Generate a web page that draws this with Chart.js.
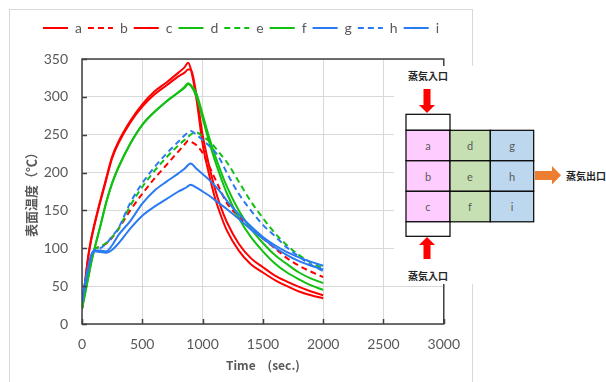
<!DOCTYPE html>
<html>
<head>
<meta charset="utf-8">
<script src="https://cdn.jsdelivr.net/npm/chart.js@4.4.1/dist/chart.umd.min.js"></script>
<style>
  html, body { margin: 0; padding: 0; background: #fff; width: 606px; height: 382px; overflow: hidden; }
  #wrap { position: absolute; left: 9px; top: 9px; width: 464px; height: 380px; border: 1px solid #d9d9d9; box-sizing: border-box; }
  #diagram { position: absolute; left: 394px; top: 66px; }
  #diagram .lbl { font-family: "Noto Sans CJK JP", sans-serif; font-weight: bold; font-size: 10px; fill: #262626; }
  #diagram .cell { font-family: Lato, sans-serif; font-size: 11px; fill: #595959; }
</style>
</head>
<body>
<div id="wrap"><canvas id="chart" width="462" height="378"></canvas></div>

<svg id="diagram" width="212" height="218" viewBox="394 66 212 218">
  <rect x="394" y="66" width="212" height="218" fill="#fff"/>
  <text class="lbl" x="428" y="75" text-anchor="middle" dominant-baseline="central">蒸気入口</text>
  <path d="M423.5,89 H430.5 V105 H435 L427,113 L419,105 H423.5 Z" fill="#ff0000"/>
  <g stroke="#000" stroke-width="1.2">
    <rect x="406" y="114.3" width="44" height="16" fill="#fff"/>
    <rect x="406" y="130.3" width="44" height="30.5" fill="#ffccff"/>
    <rect x="406" y="160.8" width="44" height="30.5" fill="#ffccff"/>
    <rect x="406" y="191.3" width="44" height="30.5" fill="#ffccff"/>
    <rect x="450" y="130.3" width="40.3" height="30.5" fill="#c6e0b4"/>
    <rect x="450" y="160.8" width="40.3" height="30.5" fill="#c6e0b4"/>
    <rect x="450" y="191.3" width="40.3" height="30.5" fill="#c6e0b4"/>
    <rect x="490.3" y="130.3" width="43.4" height="30.5" fill="#bdd7ee"/>
    <rect x="490.3" y="160.8" width="43.4" height="30.5" fill="#bdd7ee"/>
    <rect x="490.3" y="191.3" width="43.4" height="30.5" fill="#bdd7ee"/>
    <rect x="406" y="221.8" width="44" height="14.5" fill="#fff"/>
  </g>
  <g class="cell" text-anchor="middle" dominant-baseline="central">
    <text class="cell" x="428" y="145.5">a</text>
    <text class="cell" x="428" y="176">b</text>
    <text class="cell" x="428" y="206.5">c</text>
    <text class="cell" x="470" y="145.5">d</text>
    <text class="cell" x="470" y="176">e</text>
    <text class="cell" x="470" y="206.5">f</text>
    <text class="cell" x="512" y="145.5">g</text>
    <text class="cell" x="512" y="176">h</text>
    <text class="cell" x="512" y="206.5">i</text>
  </g>
  <path d="M427,237 L435,245 H430.5 V259 H423.5 V245 H419 Z" fill="#ff0000"/>
  <text class="lbl" x="428" y="275" text-anchor="middle" dominant-baseline="central">蒸気入口</text>
  <path d="M535,171 H552 V166 L561,175.3 L552,184.5 V180 H535 Z" fill="#ed7d31"/>
  <text class="lbl" x="566" y="175.5" dominant-baseline="central">蒸気出口</text>
</svg>

<script>
// sample times (sec.)
const times = [0, 25, 50, 75, 100, 150, 200, 250, 300, 400, 500, 600, 700, 800, 850, 880, 900,
  950, 1000, 1050, 1100, 1150, 1200, 1300, 1400, 1500, 1600, 1700, 1800, 1900, 2000];

// surface temperature (°C) per position
const tempA = [20, 55, 88, 112, 130, 162, 192, 221, 240, 268, 290, 307, 319, 332, 339, 345, 338,
  296, 238, 200, 168, 144, 124, 97, 79, 68, 58, 50, 43, 38, 34];
const tempB = [20, 45, 68, 88, 98, 102, 106, 114, 125, 150, 172, 192, 210, 228, 237, 242, 241,
  236, 226, 210, 193, 176, 160, 142, 128, 113, 100, 87, 77, 69, 62];
const tempC = [20, 54, 86, 110, 128, 160, 190, 219, 238, 266, 287, 303, 315, 327, 332, 336, 336,
  302, 250, 212, 180, 155, 135, 106, 87, 75, 64, 56, 49, 43, 38];
const tempD = [20, 40, 60, 80, 97, 128, 160, 186, 206, 238, 263, 280, 294, 306, 312, 317, 315,
  300, 272, 243, 217, 194, 173, 140, 115, 96, 80, 68, 59, 51, 45];
const tempE = [20, 45, 68, 88, 98, 102, 107, 115, 125, 156, 181, 202, 220, 236, 243, 247, 250,
  253, 248, 242, 234, 224, 214, 188, 162, 140, 120, 104, 91, 81, 73];
const tempF = [20, 40, 60, 80, 97, 128, 160, 186, 206, 238, 263, 280, 294, 306, 313, 318, 316,
  304, 277, 249, 224, 202, 182, 150, 126, 107, 91, 79, 68, 60, 54];
const tempG = [30, 55, 74, 90, 97, 97, 96, 104, 117, 136, 159, 176, 188, 199, 205, 210, 212,
  205, 198, 191, 183, 174, 163, 145, 129, 115, 104, 95, 88, 82, 77];
const tempH = [28, 50, 70, 88, 97, 100, 106, 116, 126, 160, 186, 207, 225, 241, 249, 253, 255,
  250, 243, 236, 228, 216, 200, 172, 150, 131, 116, 101, 89, 78, 70];
const tempI = [30, 54, 73, 89, 96, 95, 94, 98, 106, 126, 143, 155, 165, 175, 179, 182, 184,
  180, 175, 170, 164, 158, 152, 139, 125, 113, 101, 91, 83, 77, 72];

const names = ['a', 'b', 'c', 'd', 'e', 'f', 'g', 'h', 'i'];
const series = [tempA, tempB, tempC, tempD, tempE, tempF, tempG, tempH, tempI];

const RED = '#ff0000', GREEN = '#11c011', BLUE = '#2a7bf2';
const colors = [RED, RED, RED, GREEN, GREEN, GREEN, BLUE, BLUE, BLUE];
const dashed = [false, true, false, false, true, false, false, true, false];

const datasets = series.map(function(vals, i) {
  return {
    label: names[i],
    data: vals.map(function(v, k) { return { x: times[k], y: v }; }),
    borderColor: colors[i],
    backgroundColor: colors[i],
    borderWidth: 2,
    borderDash: dashed[i] ? [6, 4] : [],
    pointRadius: 0,
    cubicInterpolationMode: 'monotone',
    order: series.length - i   // later series drawn on top, like Excel
  };
});

// plot frame + inner tick marks
const framePlugin = {
  id: 'frame',
  afterDraw(chart) {
    const { ctx, chartArea: a, scales } = chart;
    ctx.save();
    ctx.strokeStyle = '#404040';
    ctx.lineWidth = 1.5;
    ctx.strokeRect(a.left, a.top, a.right - a.left, a.bottom - a.top);
    ctx.beginPath();
    scales.x.ticks.forEach(function(t) {
      const px = Math.round(scales.x.getPixelForValue(t.value)) + 0.5;
      ctx.moveTo(px, a.bottom);
      ctx.lineTo(px, a.bottom - 5);
    });
    scales.y.ticks.forEach(function(t) {
      const py = Math.round(scales.y.getPixelForValue(t.value)) + 0.5;
      ctx.moveTo(a.left, py);
      ctx.lineTo(a.left + 5, py);
    });
    ctx.stroke();
    ctx.restore();
  }
};

const tickFont = { family: 'Lato, sans-serif', size: 14 };
const gray = '#595959';

new Chart(document.getElementById('chart'), {
  type: 'line',
  data: { datasets: datasets },
  plugins: [framePlugin],
  options: {
    responsive: false,
    animation: false,
    layout: { padding: { top: 5, left: 0, right: 0, bottom: 0 } },
    plugins: {
      legend: {
        position: 'top',
        labels: {
          usePointStyle: true,
          pointStyle: 'line',
          pointStyleWidth: 25,
          boxHeight: 14,
          padding: 6,
          color: gray,
          font: tickFont,
          sort: function(a, b) { return a.datasetIndex - b.datasetIndex; },
          generateLabels: function(chart) {
            const items = Chart.defaults.plugins.legend.labels.generateLabels(chart);
            items.forEach(function(it) {
              const ds = chart.data.datasets[it.datasetIndex];
              it.lineDash = ds.borderDash;
              it.lineWidth = 2;
              it.strokeStyle = ds.borderColor;
            });
            return items;
          }
        }
      },
      tooltip: { enabled: false }
    },
    scales: {
      x: {
        type: 'linear',
        min: 0,
        max: 3000,
        ticks: {
          stepSize: 500,
          padding: 12,
          color: gray,
          font: tickFont,
          callback: function(value) { return String(value); }
        },
        grid: { color: '#d9d9d9', drawTicks: false },
        border: { display: false },
        title: {
          display: true,
          text: 'Time\u3000(sec.)',
          color: gray,
          font: { family: '"Noto Sans CJK JP", sans-serif', size: 12, weight: 'bold' },
          padding: 15
        },
        afterFit: function(s) { s.height = 64; }
      },
      y: {
        min: 0,
        max: 350,
        ticks: {
          stepSize: 50,
          padding: 14,
          color: gray,
          font: tickFont,
          callback: function(value) { return String(value); }
        },
        grid: { color: '#d9d9d9', drawTicks: false },
        border: { display: false },
        title: {
          display: true,
          text: '表面温度（℃）',
          color: gray,
          font: { family: '"Noto Sans CJK JP", sans-serif', size: 13, weight: 'bold' },
          padding: 13
        },
        afterFit: function(s) { s.width = 72; }
      },
      // spacers to pin the plot area
      xTop: {
        type: 'linear', position: 'top', min: 0, max: 3000,
        ticks: { display: false }, grid: { display: false, drawTicks: false }, border: { display: false },
        afterFit: function(s) { s.height = 14; }
      },
      yRight: {
        type: 'linear', position: 'right', min: 0, max: 350,
        ticks: { display: false }, grid: { display: false, drawTicks: false }, border: { display: false },
        afterFit: function(s) { s.width = 26; }
      }
    }
  }
});
</script>
</body>
</html>
